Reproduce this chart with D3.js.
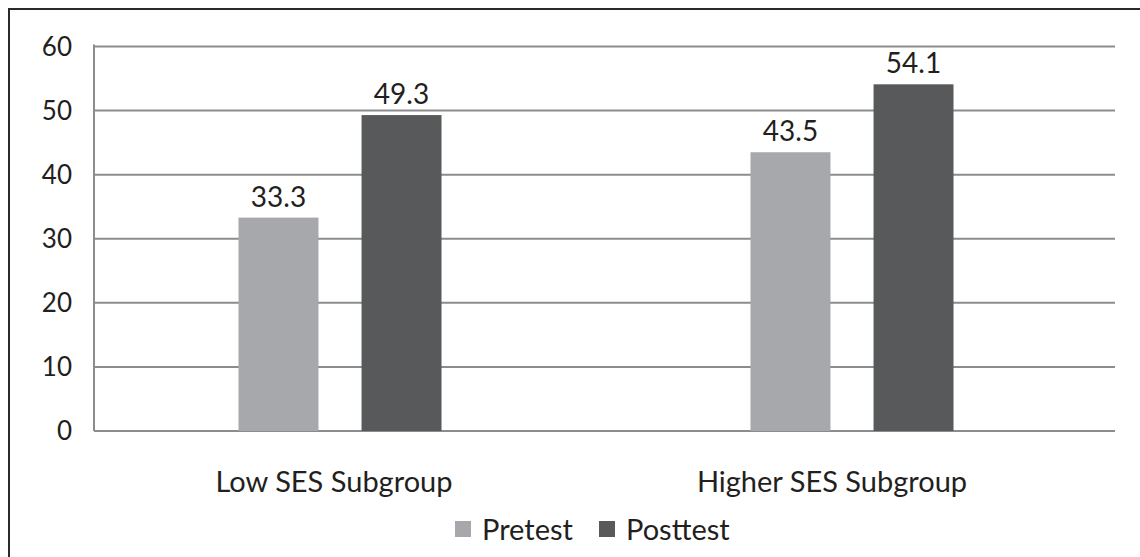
<!DOCTYPE html>
<html><head><meta charset="utf-8">
<script src="https://cdn.jsdelivr.net/npm/d3@7"></script>
<style>body{margin:0;background:#fff;}svg{display:block;}</style>
</head><body>
<svg id="chart" width="1140" height="557"></svg>
<script>
const categories = ["Low SES Subgroup", "Higher SES Subgroup"];
const seriesNames = ["Pretest", "Posttest"];
const pretest = [33.3, 43.5];
const posttest = [49.3, 54.1];
const yTicks = [0, 10, 20, 30, 40, 50, 60];
const colors = ["#a7a8ab", "#58595b"];

const svg = d3.select("#chart");
const font = "Lato, 'Open Sans', sans-serif";
const textColor = "#231f20";

// frame
svg.append("rect").attr("x", 9).attr("y", 9).attr("width", 1160).attr("height", 580)
  .attr("fill", "none").attr("stroke", "#2a2a2a").attr("stroke-width", 2);

const y = d3.scaleLinear().domain([0, 60]).range([431, 46.5]);
const x0 = d3.scaleBand().domain(categories).range([84, 1108]);
const x1 = d3.scaleBand().domain(seriesNames).range([0, 203]).paddingInner(0.35);

// gridlines
svg.append("g").selectAll("line").data(yTicks).join("line")
  .attr("x1", 94).attr("x2", 1115)
  .attr("y1", d => y(d)).attr("y2", d => y(d))
  .attr("stroke", "#8c8c8e").attr("stroke-width", 2);
svg.append("line").attr("x1", 94).attr("x2", 94).attr("y1", y(60) - 2).attr("y2", y(0))
  .attr("stroke", "#8c8c8e").attr("stroke-width", 2);

// tick labels
svg.append("g").selectAll("text").data(yTicks).join("text")
  .attr("x", 72).attr("y", d => y(d)).attr("dy", "0.36em")
  .attr("text-anchor", "end").attr("font-family", font).attr("font-size", 26)
  .attr("fill", textColor).text(d => d);

const rows = categories.map((c, i) => ({cat: c, vals: [pretest[i], posttest[i]]}));
const groups = svg.append("g").selectAll("g").data(rows).join("g")
  .attr("transform", d => `translate(${x0(d.cat) + (x0.bandwidth() - 203) / 2},0)`);

groups.selectAll("rect").data(d => d.vals.map((v, j) => ({s: seriesNames[j], v, j}))).join("rect")
  .attr("x", d => x1(d.s)).attr("width", x1.bandwidth())
  .attr("y", d => y(d.v)).attr("height", d => y(0) - y(d.v))
  .attr("fill", d => colors[d.j]);

groups.selectAll("text").data(d => d.vals.map((v, j) => ({s: seriesNames[j], v, j}))).join("text")
  .attr("x", d => x1(d.s) + x1.bandwidth() / 2).attr("y", d => y(d.v) - 11)
  .attr("text-anchor", "middle").attr("font-family", font).attr("font-size", 28)
  .attr("fill", textColor).text(d => d.v.toFixed(1));

// category labels
const catX = d3.scaleOrdinal().domain(categories).range([334, 832]);
svg.append("g").selectAll("text").data(categories).join("text")
  .attr("x", d => catX(d)).attr("y", 492).attr("text-anchor", "middle")
  .attr("font-family", font).attr("font-size", 29).attr("fill", textColor).text(d => d);

// legend
const legX = [455, 599];
const leg = svg.append("g").selectAll("g").data(seriesNames).join("g")
  .attr("transform", (d, i) => `translate(${legX[i]},521)`);
leg.append("rect").attr("width", 16).attr("height", 16).attr("fill", (d, i) => colors[i]);
leg.append("text").attr("x", 27).attr("y", 19).attr("font-family", font).attr("font-size", 29)
  .attr("fill", textColor).text(d => d);
</script>
</body></html>
